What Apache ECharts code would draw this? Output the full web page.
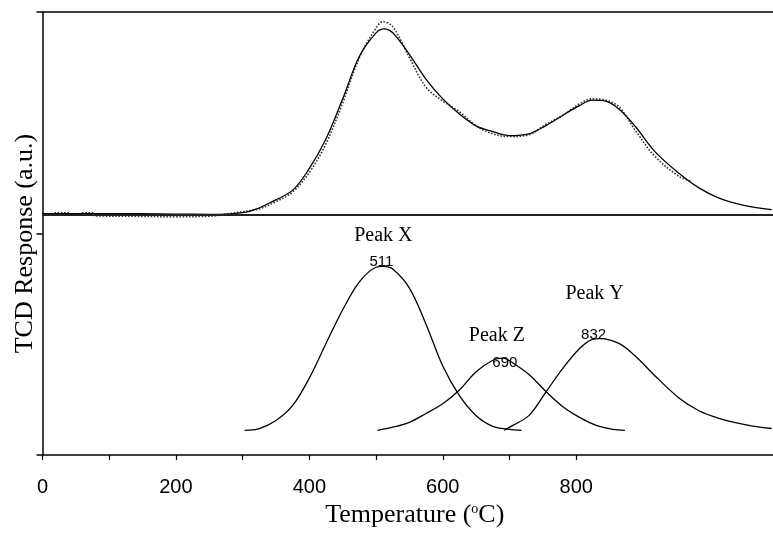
<!DOCTYPE html>
<html>
<head>
<meta charset="utf-8">
<script src="https://cdn.jsdelivr.net/npm/echarts@6/dist/echarts.min.js"></script>
<style>
html, body { margin: 0; padding: 0; background: #fff; }
#chart { width: 773px; height: 533px; }
</style>
</head>
<body>
<div id="chart"></div>
<script>
// x axis ticks / labels (deg C)
var xTicks = [0, 100, 200, 300, 400, 500, 600, 700, 800];
var xLabels = [0, 200, 400, 600, 800];

// level that splits the two panels (arbitrary units)
var dividerLevel = 54.2;

// upper panel: fitted envelope (solid) and measured TPR trace (dotted)
var upperFit = [[0, 54.5], [100, 54.5], [200, 54.4], [266, 54.3], [300, 54.7], [318, 55.4], [340, 56.9],
    [375, 59.8], [400, 64.7], [425, 71.4], [450, 80.4], [475, 90.0], [500, 95.3], [512, 96.2], [525, 95.3],
    [550, 90.4], [575, 84.8], [600, 80.4], [625, 77.0], [650, 74.3], [675, 73.0], [700, 72.1], [729, 72.5],
    [754, 74.3], [779, 76.6], [804, 78.8], [824, 80.1], [844, 79.9], [864, 78.1], [889, 74.1], [918, 68.5],
    [954, 63.6], [984, 60.3], [1014, 58.0], [1053, 56.3], [1093, 55.4]];

var upperExp = [[18, 54.7], [40, 54.7], [45, 54.2], [55, 54.2], [60, 54.7], [75, 54.7], [78, 54.0],
    [140, 53.9], [200, 53.8], [250, 53.9], [280, 54.5], [325, 55.6], [350, 57.2], [375, 59.4], [400, 63.8],
    [425, 70.3], [450, 79.5], [475, 89.7], [500, 96.4], [510, 97.8], [525, 96.7], [550, 89.7], [575, 83.0],
    [600, 79.9], [625, 77.5], [650, 74.3], [675, 72.5], [700, 71.9], [729, 72.3], [754, 74.6], [779, 76.6],
    [804, 79.2], [824, 80.4], [844, 80.1], [864, 78.6], [889, 73.2], [918, 67.4], [954, 62.9], [973, 61.8]];

// lower panel: deconvoluted peaks
var peakX = [[303, 5.6], [325, 6.0], [350, 7.8], [375, 11.2], [400, 17.4], [425, 25.2], [450, 32.8],
    [475, 39.1], [500, 42.4], [511, 42.6], [525, 42.0], [550, 37.7], [575, 29.5], [600, 20.1], [625, 13.4],
    [650, 8.9], [675, 6.5], [700, 5.8], [718, 5.6]];
var peakZ = [[502, 5.6], [525, 6.3], [550, 7.4], [575, 9.4], [600, 11.6], [625, 14.7], [650, 18.8],
    [675, 21.4], [690, 21.9], [705, 20.8], [730, 18.1], [755, 14.3], [780, 10.9], [805, 8.5], [830, 6.7],
    [855, 5.8], [873, 5.6]];
var peakY = [[692, 5.6], [705, 6.7], [729, 8.9], [754, 14.1], [779, 19.4], [804, 23.9], [824, 26.1],
    [836, 26.3], [864, 25.2], [889, 22.3], [918, 17.9], [954, 12.9], [984, 10.0], [1014, 8.3], [1053, 6.9],
    [1093, 6.0]];

var peakNames = ['Peak X', 'Peak Z', 'Peak Y'];
var peakTemps = [511, 690, 832];
var peakHeights = [42.6, 21.9, 26.3];

var serif = '"Liberation Serif", "Times New Roman", serif';
var sans = '"Liberation Sans", Arial, sans-serif';

// label offsets in px: [name dx, name dy, value dx, value dy]
var labelOffsets = [[0, -31, -2, -4], [-6, -22, 2, 5], [-3, -45, -4, -4]];

function peakMarks(i) {
    var o = labelOffsets[i];
    return {
        symbol: 'circle',
        symbolSize: 0,
        silent: true,
        data: [
            {
                coord: [peakTemps[i], peakHeights[i]],
                label: { show: true, position: 'inside', offset: [o[0], o[1]], formatter: peakNames[i],
                    fontFamily: serif, fontSize: 20, color: '#000' }
            },
            {
                coord: [peakTemps[i], peakHeights[i]],
                label: { show: true, position: 'inside', offset: [o[2], o[3]], formatter: String(peakTemps[i]),
                    fontFamily: sans, fontSize: 15, color: '#000' }
            }
        ]
    };
}

var lineBase = { type: 'line', showSymbol: false, smooth: 0.35, silent: true };

var option = {
    animation: false,
    backgroundColor: '#fff',
    grid: { left: 42.5, right: 0, top: 12, bottom: 72 },
    xAxis: [{
        type: 'value',
        min: 0,
        max: 1095,
        axisLine: { lineStyle: { color: '#000', width: 1.5 } },
        axisTick: { show: true, customValues: xTicks, length: 5, lineStyle: { color: '#000', width: 1.2 } },
        axisLabel: { customValues: xLabels, margin: 22, fontFamily: sans, fontSize: 20, color: '#000' },
        splitLine: { show: false },
        name: '{n|Temperature (}{s|o}{n|C)}',
        nameLocation: 'middle',
        nameGap: 40,
        nameTextStyle: {
            padding: [0, 0, 0, 14],
            rich: {
                n: { fontFamily: serif, fontSize: 26, color: '#000' },
                s: { fontFamily: serif, fontSize: 14, color: '#000', verticalAlign: 'top', padding: [0, 0, 12, 0] }
            }
        }
    }, {
        type: 'value',
        position: 'top',
        min: 0,
        max: 1095,
        axisLine: { show: true, lineStyle: { color: '#000', width: 1.5 } },
        axisTick: { show: false },
        axisLabel: { show: false },
        splitLine: { show: false }
    }],
    yAxis: {
        type: 'value',
        min: 0,
        max: 100,
        interval: 50,
        axisLine: { show: true, lineStyle: { color: '#000', width: 1.5 } },
        axisTick: { show: true, length: 6, lineStyle: { color: '#000', width: 1.5 } },
        axisLabel: { show: false },
        splitLine: { show: false },
        name: 'TCD Response (a.u.)',
        nameLocation: 'middle',
        nameGap: 4,
        nameTextStyle: { fontFamily: serif, fontSize: 26, color: '#000', padding: [0, 20, 0, 0] }
    },
    series: [
        Object.assign({}, lineBase, {
            name: 'experimental',
            data: upperExp,
            lineStyle: { color: '#333', width: 1.6, type: 'dotted' }
        }),
        Object.assign({}, lineBase, {
            name: 'fit',
            data: upperFit,
            lineStyle: { color: '#000', width: 1.3 },
            markLine: {
                symbol: 'none',
                silent: true,
                label: { show: false },
                lineStyle: { color: '#222', width: 2, type: 'solid' },
                data: [{ yAxis: dividerLevel }]
            }
        }),
        Object.assign({}, lineBase, {
            name: peakNames[0], data: peakX,
            lineStyle: { color: '#000', width: 1.3 }, markPoint: peakMarks(0)
        }),
        Object.assign({}, lineBase, {
            name: peakNames[1], data: peakZ,
            lineStyle: { color: '#000', width: 1.3 }, markPoint: peakMarks(1)
        }),
        Object.assign({}, lineBase, {
            name: peakNames[2], data: peakY,
            lineStyle: { color: '#000', width: 1.3 }, markPoint: peakMarks(2)
        })
    ]
};

var myChart = echarts.init(document.getElementById('chart'));
myChart.setOption(option);
</script>
</body>
</html>
